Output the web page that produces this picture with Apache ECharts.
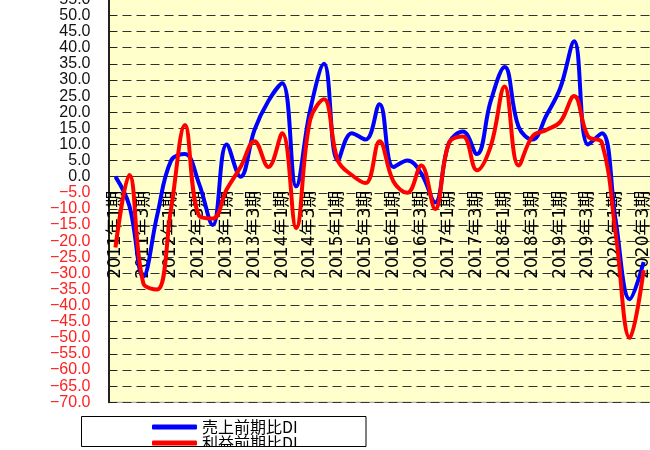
<!DOCTYPE html>
<html>
<head>
<meta charset="utf-8">
<script src="https://cdn.jsdelivr.net/npm/echarts@6/dist/echarts.min.js"></script>
<style>
  html, body { margin: 0; padding: 0; background: #fff; }
  #main { width: 650px; height: 450px; }
</style>
</head>
<body>
<div id="main"></div>
<script>
// 期ごとのカテゴリ
var categories = [
  '2011年1期', '2011年2期', '2011年3期', '2011年4期',
  '2012年1期', '2012年2期', '2012年3期', '2012年4期',
  '2013年1期', '2013年2期', '2013年3期', '2013年4期',
  '2014年1期', '2014年2期', '2014年3期', '2014年4期',
  '2015年1期', '2015年2期', '2015年3期', '2015年4期',
  '2016年1期', '2016年2期', '2016年3期', '2016年4期',
  '2017年1期', '2017年2期', '2017年3期', '2017年4期',
  '2018年1期', '2018年2期', '2018年3期', '2018年4期',
  '2019年1期', '2019年2期', '2019年3期', '2019年4期',
  '2020年1期', '2020年2期', '2020年3期'
]
// 売上前期比DI
var salesDI = [0, -9, -31, -12, 5, 7, -2, -15, 10, 0, 14.5, 23.5, 29, -3, 20.5, 35, 5, 13.5, 11.5, 22.5,
  3, 5, 1, -8, 10.5, 14, 7, 23.5, 34, 15.5, 11.5, 19, 27.5, 42, 10, 13.5, -14, -38, -26.5]
// 利益前期比DI
var profitDI = [-22, 0.5, -33, -35, -10, 16, -12, -13, -4, 3, 11, 3, 13.5, -16, 17.5, 24, 5, 0.5, -2, 11,
  -1.5, -5, 3.5, -10, 10.5, 12.5, 2, 9.5, 28, 3.5, 12.5, 14.5, 17, 25, 12.5, 10.5, -18, -50, -29]
var seriesNames = ['売上前期比DI', '利益前期比DI']

var chart = echarts.init(document.getElementById('main'))
var option = {
  animation: false,
  textStyle: { fontFamily: "'Liberation Sans', 'Noto Sans CJK JP', sans-serif" },
  grid: {
    left: 108.5, right: -0.6, top: -0.6, bottom: 47.7,
    outerBoundsMode: 'none', containLabel: false,
    show: true, backgroundColor: '#FFFFCC', borderColor: '#999', borderWidth: 1
  },
  legend: {
    data: seriesNames,
    orient: 'vertical',
    left: 147, top: 414, height: 80,
    itemWidth: 45, itemHeight: 5, itemGap: 0,
    icon: 'roundRect',
    textStyle: { fontSize: 16, lineHeight: 14, color: '#000', fontFamily: "'Noto Sans CJK JP', sans-serif" },
    z: 5
  },
  graphic: [
    // 凡例の枠
    { type: 'rect', z: 1, shape: { x: 81.5, y: 416.5, width: 284.5, height: 30 }, style: { fill: '#fff', stroke: 'none' } },
    { type: 'rect', z: 100, shape: { x: 0, y: 447, width: 650, height: 3 }, style: { fill: '#fff' } },
    { type: 'rect', z: 101, shape: { x: 81.5, y: 416.5, width: 284.5, height: 30 }, style: { fill: 'none', stroke: '#000', lineWidth: 1 } }
  ],
  xAxis: {
    type: 'category',
    data: categories,
    boundaryGap: true,
    // 0 の位置へ軸を移動
    offset: -225.6,
    axisLine: { onZero: false, lineStyle: { color: '#333', width: 1 } },
    axisTick: { inside: true, length: 5, interval: 0, lineStyle: { color: '#333' } },
    axisLabel: {
      interval: 1, rotate: 90, margin: 14,
      fontSize: 17, color: '#000',
      fontFamily: "'DejaVu Sans', 'Noto Sans CJK JP', sans-serif"
    },
    splitLine: { show: false }
  },
  yAxis: {
    type: 'value',
    min: -70, max: 55, interval: 5,
    axisLine: { show: true, lineStyle: { color: '#222', width: 2 } },
    axisTick: { show: true, inside: true, length: 8, lineStyle: { color: '#222' } },
    axisLabel: {
      margin: 18, fontSize: 16,
      formatter: function (v) {
        return v < 0 ? '\u2212' + Math.abs(v).toFixed(1) : v.toFixed(1)
      },
      color: function (v) {
        return v < 0 ? '#FF2020' : '#111'
      }
    },
    splitLine: { show: true, lineStyle: { color: '#333', type: [9, 5], width: 1 } }
  },
  series: [
    {
      name: seriesNames[0], type: 'line', data: salesDI,
      smooth: 0.4, symbol: 'none', z: 3,
      itemStyle: { color: '#0000FF' },
      lineStyle: { color: '#0000FF', width: 4 }
    },
    {
      name: seriesNames[1], type: 'line', data: profitDI,
      smooth: 0.4, symbol: 'none', z: 4,
      itemStyle: { color: '#FF0000' },
      lineStyle: { color: '#FF0000', width: 4 }
    }
  ]
}
chart.setOption(option)
</script>
</body>
</html>
